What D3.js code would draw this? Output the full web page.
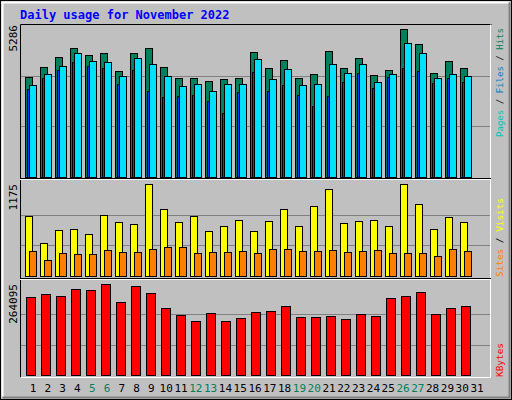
<!DOCTYPE html>
<html><head><meta charset="utf-8">
<script src="https://cdn.jsdelivr.net/npm/d3@7"></script>
<style>body{margin:0;background:#fff}</style>
</head><body><div id="wrapper"></div>
<script>
const days = d3.range(1, 32);
const weekends = [5, 6, 12, 13, 19, 20, 26, 27];
const hits = [3462,3811,4159,4473,4229,4299,3671,4299,4473,3811,3427,3427,3323,3392,3427,4334,3776,4055,3427,3567,4368,3776,4124,3532,3706,5135,4612,3602,4020,3776];
const files = [3183,3567,3846,4299,4020,3985,3497,4124,3915,3497,3148,3218,2974,3218,3218,4090,3392,3741,3183,3218,3915,3602,3915,3288,3567,4647,4299,3427,3567,3497];
const pages = [3044,3427,3706,3985,3846,3776,3218,3706,2974,2765,2800,2835,2660,2242,2939,3636,2974,3183,2835,2486,2800,3288,3602,3079,3462,3776,3671,3253,3427,3288];
const visits = [766,421,587,600,536,779,690,664,1175,856,690,766,575,639,715,575,702,856,639,894,1111,677,702,715,639,1175,920,600,753,690];
const sites = [319,204,294,281,281,332,307,307,345,370,370,294,307,307,319,294,345,345,319,319,332,307,319,332,294,294,294,255,345,319];
const kbytes = [226000,235000,229000,250000,247000,264095,212000,258000,238000,194000,174000,157000,180000,157000,165000,183000,186000,200000,168000,168000,171000,163000,177000,171000,223000,229000,241000,177000,194000,200000];

const W = 512, H = 400;
const font = "'DejaVu Sans Mono', monospace";
const svg = d3.select("#wrapper").append("svg").attr("width", W).attr("height", H);

// background and bevel
svg.append("rect").attr("width", W).attr("height", H).attr("fill", "#c0c0c0");
svg.append("rect").attr("x", 0.5).attr("y", 0.5).attr("width", W - 1).attr("height", H - 1).attr("fill", "none").attr("stroke", "black");
svg.append("path").attr("d", `M2.5,${H-3} V2.5 H${W-3}`).attr("fill", "none").attr("stroke", "white").attr("stroke-width", 2);
svg.append("path").attr("d", `M${W-2.5},2.5 V${H-2.5} H2.5`).attr("fill", "none").attr("stroke", "#808080").attr("stroke-width", 2);

svg.append("text").attr("x", 20).attr("y", 19).text("Daily usage for November 2022")
    .attr("fill", "#0000ff").attr("font-family", font).attr("font-weight", "bold").attr("font-size", "12px");

const x = d3.scaleBand().domain(days).range([20, 485]).padding(0);
const xLabel = d3.scaleLinear().domain([1, 31]).range([33, 477]);

// plot frame
svg.append("path").attr("d", "M20.5,377.5 V24.5 H491.5").attr("fill", "none").attr("stroke", "black");
svg.append("path").attr("d", "M490.5,24.5 V377.5 H20.5").attr("fill", "none").attr("stroke", "white");
[179.5, 279.5].forEach(y => {
    svg.append("line").attr("x1", 20).attr("x2", 491).attr("y1", y - 1).attr("y2", y - 1).attr("stroke", "black");
    svg.append("line").attr("x1", 20).attr("x2", 491).attr("y1", y).attr("y2", y).attr("stroke", "white");
});

function panel(top, bottom, max, label) {
    const y = d3.scaleLinear().domain([0, max]).range([bottom, top]);
    const g = svg.append("g");
    [max / 3, max * 2 / 3].forEach(v => {
        g.append("line").attr("x1", 21).attr("x2", 490).attr("y1", Math.round(y(v)) + 0.5).attr("y2", Math.round(y(v)) + 0.5).attr("stroke", "#808080");
    });
    svg.append("text").attr("transform", `translate(17,${top}) rotate(-90)`).attr("text-anchor", "end")
        .text(label).attr("font-family", font).attr("font-size", "11px").attr("fill", "black");
    return {y, g};
}

function bars(p, data, off, w, color) {
    p.g.selectAll(null).data(data).enter().append("rect")
        .attr("x", (d, i) => x(i + 1) + off + 0.5)
        .attr("y", d => Math.round(p.y(d)) + 0.5)
        .attr("width", w)
        .attr("height", d => p.y(0) - Math.round(p.y(d)))
        .attr("fill", color).attr("stroke", "black");
}

const p1 = panel(25, 177, 5286, "5286");
bars(p1, hits, 5, 7, "#00805c");
bars(p1, pages, 7, 2, "#0040ff");
bars(p1, files, 9, 7, "#00e0ff");

const p2 = panel(184, 276, 1175, "1175");
bars(p2, visits, 5, 7, "#ffff00");
bars(p2, sites, 9, 7, "#ff8000");

const p3 = panel(284, 375, 264095, "264095");
bars(p3, kbytes, 6, 9, "#ff0000");

// x labels
svg.selectAll(null).data(days).enter().append("text")
    .attr("x", d => xLabel(d)).attr("y", 392).attr("text-anchor", "middle")
    .text(d => d).attr("font-family", font).attr("font-size", "11px")
    .attr("fill", d => weekends.includes(d) ? "#00805c" : "black");

// right side legends
function legend(yPos, len, parts) {
    const t = svg.append("text").attr("transform", `translate(503,${yPos}) rotate(-90)`)
        .attr("font-family", font).attr("font-size", "9px")
        .attr("textLength", len).attr("lengthAdjust", "spacingAndGlyphs");
    parts.forEach(([s, c]) => t.append("tspan").text(s).attr("fill", c));
}
legend(137, 109, [["Pages", "#00c0c0"], [" / ", "#000000"], ["Files", "#0080c0"], [" / ", "#000000"], ["Hits", "#00805c"]]);
legend(277, 79, [["Sites", "#ff8000"], [" / ", "#000000"], ["Visits", "#ffff00"]]);
legend(377, 34, [["KBytes", "#ff0000"]]);
</script>
</body></html>
